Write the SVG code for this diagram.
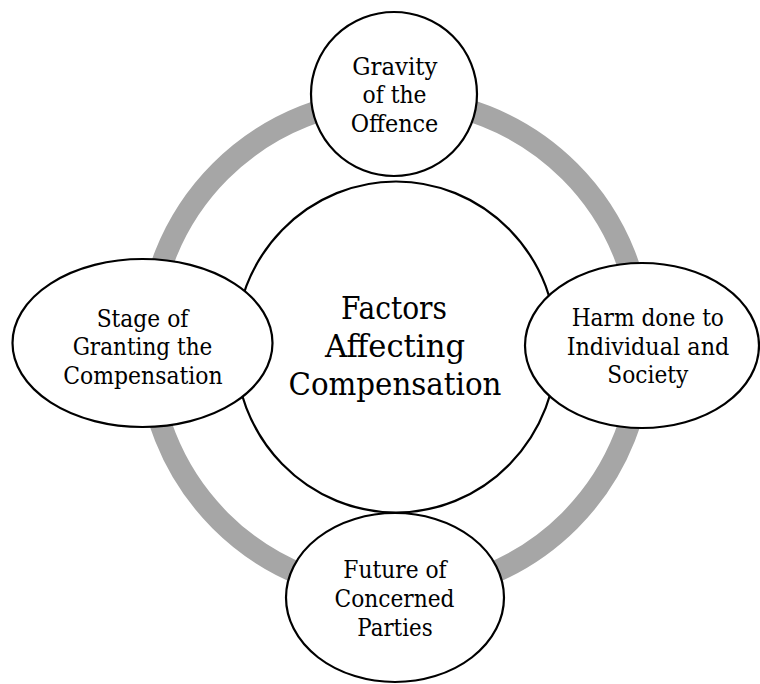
<svg xmlns="http://www.w3.org/2000/svg" width="760" height="684" viewBox="0 0 760 684">
  <style>
    .node { fill: #ffffff; stroke: #000000; stroke-width: 2.2; }
    .ring { fill: none; stroke: #a6a6a6; stroke-width: 22; }
    text { font-family: "DejaVu Serif Condensed", "DejaVu Serif", serif; font-stretch: condensed; fill: #000000; text-anchor: middle; }
    .lbl { font-size: 25px; }
    .hub { font-size: 31.5px; }
  </style>
  <rect width="760" height="684" fill="#ffffff"/>

  <!-- connecting cycle ring -->
  <g id="connectors">
    <circle class="ring" cx="395" cy="346" r="247"/>
  </g>

  <!-- hub -->
  <g id="hub">
    <ellipse class="node" cx="396" cy="347" rx="161" ry="165.5"/>
    <text class="hub" x="394" y="319" textLength="106" lengthAdjust="spacingAndGlyphs">Factors</text>
    <text class="hub" x="395" y="357" textLength="140" lengthAdjust="spacingAndGlyphs">Affecting</text>
    <text class="hub" x="395" y="395" textLength="213" lengthAdjust="spacingAndGlyphs">Compensation</text>
  </g>

  <g id="gravity">
    <ellipse class="node" cx="394" cy="94" rx="83" ry="82"/>
    <text class="lbl" x="394.8" y="75" textLength="85" lengthAdjust="spacingAndGlyphs">Gravity</text>
    <text class="lbl" x="394.5" y="103.3" textLength="64" lengthAdjust="spacingAndGlyphs">of the</text>
    <text class="lbl" x="394.5" y="131.6" textLength="87.6" lengthAdjust="spacingAndGlyphs">Offence</text>
  </g>

  <g id="harm">
    <ellipse class="node" cx="642" cy="345.5" rx="117" ry="82.5"/>
    <text class="lbl" x="647.8" y="326" textLength="152.3" lengthAdjust="spacingAndGlyphs">Harm done to</text>
    <text class="lbl" x="648" y="354.5" textLength="162.7" lengthAdjust="spacingAndGlyphs">Individual and</text>
    <text class="lbl" x="647.8" y="383" textLength="81" lengthAdjust="spacingAndGlyphs">Society</text>
  </g>

  <g id="future">
    <ellipse class="node" cx="395" cy="597.5" rx="109" ry="84.5"/>
    <text class="lbl" x="395" y="578" textLength="103.3" lengthAdjust="spacingAndGlyphs">Future of</text>
    <text class="lbl" x="394.5" y="607" textLength="120" lengthAdjust="spacingAndGlyphs">Concerned</text>
    <text class="lbl" x="395" y="636" textLength="75.3" lengthAdjust="spacingAndGlyphs">Parties</text>
  </g>

  <g id="stage">
    <ellipse class="node" cx="142.5" cy="343" rx="130" ry="84"/>
    <text class="lbl" x="142.5" y="326.5" textLength="91.7" lengthAdjust="spacingAndGlyphs">Stage of</text>
    <text class="lbl" x="142.5" y="355" textLength="139.7" lengthAdjust="spacingAndGlyphs">Granting the</text>
    <text class="lbl" x="143" y="383.5" textLength="159.3" lengthAdjust="spacingAndGlyphs">Compensation</text>
  </g>
</svg>
